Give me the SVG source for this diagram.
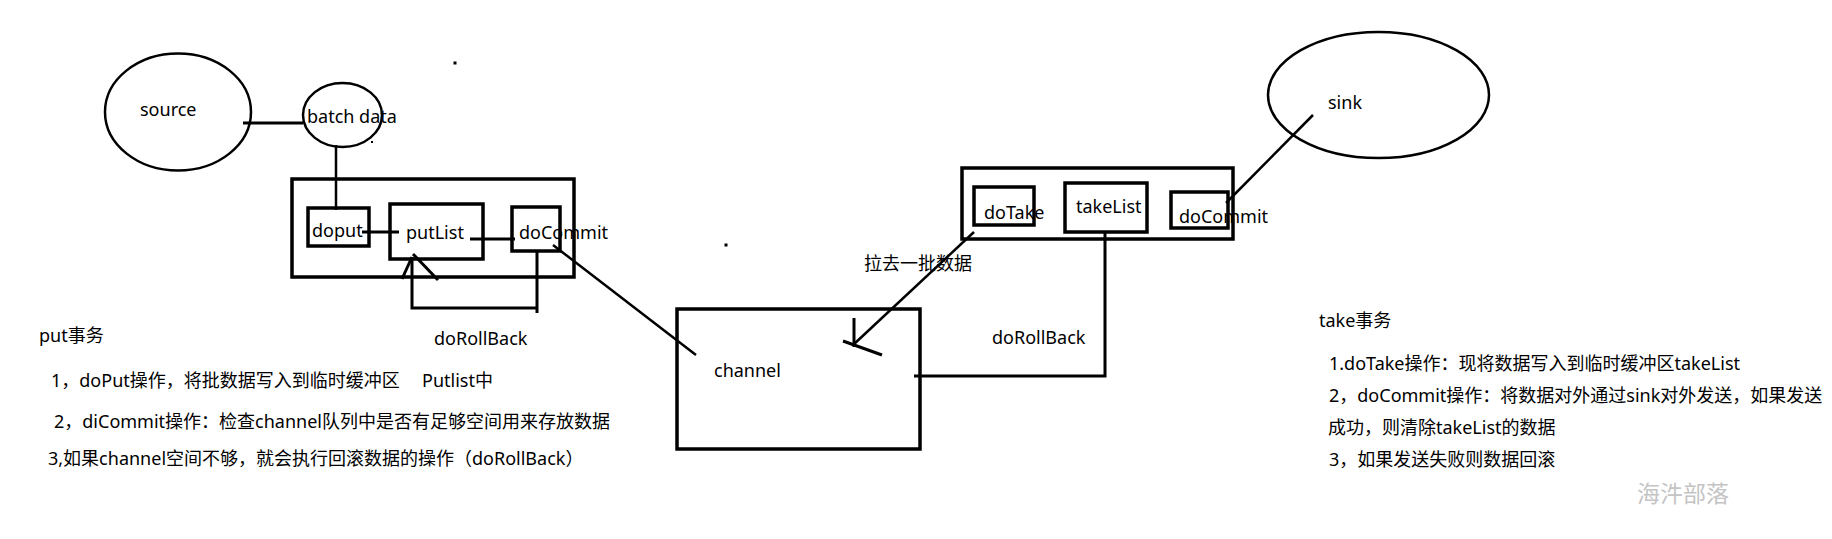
<svg xmlns="http://www.w3.org/2000/svg" width="1832" height="539" viewBox="0 0 1832 539">
<style>
text{font-family:"Noto Sans","Noto Sans CJK SC",sans-serif;font-size:18px;fill:#000}
.box{fill:none;stroke:#000;stroke-width:3.5}
.ell{fill:none;stroke:#000;stroke-width:2.5}
.ln{fill:none;stroke:#000;stroke-width:3}
.thin{fill:none;stroke:#000;stroke-width:2.5}
.wm{font-family:"Noto Sans CJK SC",sans-serif;font-size:23px;fill:#c4c4c4}
</style>
<rect width="1832" height="539" fill="#fff"/>
<g id="source"><ellipse class="ell" cx="178" cy="112" rx="73" ry="58.5"/><text x="140" y="116">source</text></g>
<g id="batch-data"><ellipse class="ell" cx="342.5" cy="115" rx="39.5" ry="32"/><text x="307" y="123">batch data</text></g>
<g id="put-transaction"><rect class="box" x="292" y="179" width="282" height="98"/></g>
<g id="doput"><rect class="box" x="308" y="208" width="61" height="38"/><text x="312" y="237">doput</text></g>
<g id="putList"><rect class="box" x="390" y="204" width="93" height="55"/><text x="406" y="239">putList</text></g>
<g id="doCommit-put"><rect class="box" x="512" y="207" width="48" height="44"/><text x="519" y="239">doCommit</text></g>
<g id="channel"><rect class="box" x="677" y="309" width="243" height="140"/><text x="714" y="377">channel</text></g>
<g id="take-transaction"><rect class="box" x="962" y="168" width="271" height="71"/></g>
<g id="doTake"><rect class="box" x="974" y="187" width="60" height="38"/><text x="984" y="219">doTake</text></g>
<g id="takeList"><rect class="box" x="1065" y="183" width="82" height="49"/><text x="1076" y="213">takeList</text></g>
<g id="doCommit-take"><rect class="box" x="1171" y="192" width="57" height="36"/><text x="1179" y="223">doCommit</text></g>
<g id="sink"><ellipse class="ell" cx="1378.5" cy="95" rx="110.5" ry="63"/><text x="1328" y="109">sink</text></g>
<g id="connectors">
<line class="ln" x1="243" y1="123" x2="303" y2="123"/>
<line class="thin" x1="336" y1="145" x2="336" y2="210"/>
<line class="ln" x1="362" y1="232" x2="399" y2="232"/>
<line class="ln" x1="470" y1="239" x2="515" y2="239"/>
<polyline class="ln" points="537,252 537,313"/>
<polyline class="ln" points="536,308 412,308 412,257"/>
<line class="ln" x1="402" y1="279" x2="412" y2="257"/>
<line class="ln" x1="413" y1="254" x2="438" y2="280"/>
<line class="thin" x1="553" y1="245" x2="696" y2="355"/>
<line class="thin" x1="974" y1="232" x2="853" y2="345"/>
<line class="ln" x1="854" y1="318" x2="854" y2="347"/>
<line class="ln" x1="843" y1="341" x2="882" y2="355"/>
<polyline class="ln" points="914,376 1105,376 1105,232"/>
<line class="thin" x1="1226" y1="203" x2="1313" y2="115"/>
<rect x="453.5" y="61.5" width="3" height="3" fill="#000"/>
<rect x="371" y="141" width="2" height="2" fill="#000"/>
<rect x="724.5" y="243.5" width="3" height="3" fill="#000"/>
</g>
<text x="434" y="345">doRollBack</text>
<text x="864" y="270">拉去一批数据</text>
<text x="992" y="344">doRollBack</text>
<text x="39" y="342">put事务</text>
<text x="51" y="387">1，doPut操作，将批数据写入到临时缓冲区</text>
<text x="422" y="387">Putlist中</text>
<text x="54" y="428">2，diCommit操作：检查channel队列中是否有足够空间用来存放数据</text>
<text x="48" y="465">3,如果channel空间不够，就会执行回滚数据的操作（doRollBack）</text>
<text x="1319" y="327">take事务</text>
<text x="1329" y="370">1.doTake操作：现将数据写入到临时缓冲区takeList</text>
<text x="1329" y="402">2，doCommit操作：将数据对外通过sink对外发送，如果发送</text>
<text x="1328" y="434">成功，则清除takeList的数据</text>
<text x="1329" y="466">3，如果发送失败则数据回滚</text>
<text class="wm" x="1637" y="502">海汼部落</text>
</svg>
